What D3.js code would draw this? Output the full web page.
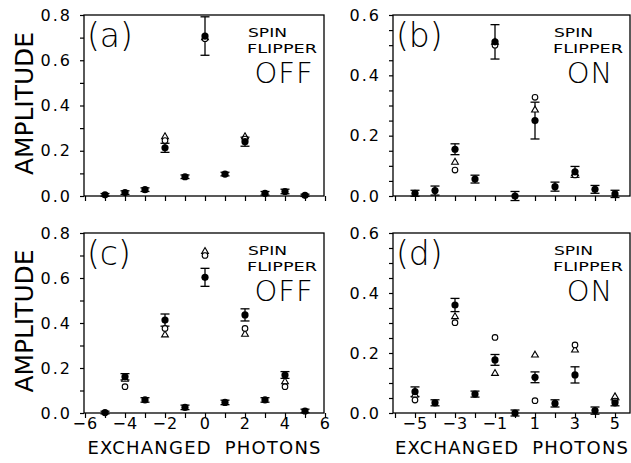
<!DOCTYPE html>
<html>
<head>
<meta charset="utf-8">
<script src="https://cdn.jsdelivr.net/npm/d3@7"></script>
<style>
body{margin:0;background:#fff}
svg{display:block}
text{font-family:"DejaVu Sans",sans-serif;fill:#000}
</style>
</head>
<body>
<svg></svg>
<script>
//chart data
var photons = [-5,-4,-3,-2,-1,0,1,2,3,4,5];
// (a) spin flipper off
var expA  = [0.005,0.015,0.028,0.213,0.085,0.707,0.097,0.240,0.012,0.020,0.003];
var errA  = [0.006,0.008,0.008,0.020,0.008,0.085,0.008,0.020,0.008,0.010,0.005];
var circA = [null,null,null,0.245,null,0.695,null,0.252,null,null,null];
var triA  = [null,null,null,0.262,null,0.700,null,0.262,null,null,null];
// (b) spin flipper on
var expB  = [0.009,0.018,0.155,0.056,0.511,0.000,0.250,0.031,0.080,0.022,0.007];
var errB  = [0.010,0.015,0.018,0.013,0.057,0.015,0.061,0.015,0.018,0.013,0.012];
var circB = [null,null,0.086,null,0.500,null,0.327,null,0.070,null,null];
var triB  = [null,null,0.112,null,0.510,null,0.285,null,0.075,null,null];
// (c) spin flipper off
var expC  = [0.002,0.161,0.058,0.413,0.025,0.603,0.047,0.436,0.058,0.169,0.009];
var errC  = [0.006,0.014,0.010,0.027,0.010,0.040,0.010,0.027,0.010,0.015,0.008];
var circC = [null,0.117,null,0.376,null,0.700,null,0.376,null,0.117,null];
var triC  = [null,0.150,null,0.347,null,0.718,null,0.350,null,0.139,null];
// (d) spin flipper on
var expD  = [0.071,0.034,0.360,0.063,0.177,0.000,0.119,0.032,0.127,0.008,0.034];
var errD  = [0.016,0.010,0.022,0.010,0.018,0.010,0.018,0.012,0.027,0.012,0.010];
var circD = [0.043,null,0.301,null,0.252,null,0.041,null,0.227,null,0.040];
var triD  = [0.060,null,0.321,null,0.132,null,0.193,null,0.210,null,0.054];

var panelNames = ['(a)','(b)','(c)','(d)'];
var flipState = ['OFF','ON','OFF','ON'];
var yMax = [0.8,0.6,0.8,0.6];

/*********layout************/
var width = 631, height = 463;
var svg = d3.select('svg').attr('width',width).attr('height',height);

var panels = [
	{name:panelNames[0],state:flipState[0],ymax:yMax[0],exp:expA,err:errA,circ:circA,tri:triA,
	 x0:84,x1:324,y0:15,y1:196,xdom:[-6.05,5.95],labels:false,left:true},
	{name:panelNames[1],state:flipState[1],ymax:yMax[1],exp:expB,err:errB,circ:circB,tri:triB,
	 x0:393,x1:630,y0:15,y1:196,xdom:[-6.1,5.75],labels:false,left:false},
	{name:panelNames[2],state:flipState[2],ymax:yMax[2],exp:expC,err:errC,circ:circC,tri:triC,
	 x0:84,x1:324,y0:233,y1:413,xdom:[-6.05,5.95],labels:true,left:true},
	{name:panelNames[3],state:flipState[3],ymax:yMax[3],exp:expD,err:errD,circ:circD,tri:triD,
	 x0:393,x1:630,y0:233,y1:413,xdom:[-6.1,5.75],labels:true,left:false}
];

var fmt = d3.format('.1f');
var fmtInt = d3.format('d');

panels.forEach(function(p){
	var g = svg.append('g');
	var x = d3.scaleLinear().domain(p.xdom).range([p.x0,p.x1]);
	var y = d3.scaleLinear().domain([0,p.ymax]).range([p.y1,p.y0]);
	var ystep = p.ymax > 0.7 ? 0.1 : 0.05;

	//x axis
	var xt = p.left ? d3.range(-6,7) : d3.range(-6,6);
	var axX = d3.axisBottom(x).tickValues(xt).tickSize(5).tickPadding(0)
		.tickFormat(function(d){
			if(!p.labels) return '';
			if(p.left) return (d % 2 === 0) ? fmtInt(d) : '';
			return (Math.abs(d) % 2 === 1) ? fmtInt(d) : '';
		});
	var gx = g.append('g').attr('transform','translate(0,'+p.y1+')').call(axX);
	gx.select('.domain').remove();
	gx.selectAll('line').attr('stroke','#000').attr('stroke-width',1.2);
	gx.selectAll('text').attr('font-size',16).attr('letter-spacing',1.2).attr('fill','#000');

	//y axis
	var yt = d3.range(0,Math.round(p.ymax/ystep)+1).map(function(i){return +(i*ystep).toFixed(2);});
	var axY = d3.axisLeft(y).tickValues(yt).tickSize(4).tickPadding(8)
		.tickFormat(function(d){
			return (Math.round(d*100) % 20 === 0) ? fmt(d) : '';
		});
	var gy = g.append('g').attr('transform','translate('+p.x0+',0)').call(axY);
	gy.select('.domain').remove();
	gy.selectAll('line').attr('stroke','#000').attr('stroke-width',1.2);
	gy.selectAll('text').attr('font-size',16).attr('letter-spacing',2).attr('fill','#000');

	//frame
	g.append('rect').attr('x',p.x0).attr('y',p.y0)
		.attr('width',p.x1-p.x0).attr('height',p.y1-p.y0)
		.attr('fill','none').attr('stroke','#000').attr('stroke-width',1.3);

	var rows = photons.map(function(n,i){
		return {n:n,v:p.exp[i],e:p.err[i],c:p.circ[i],t:p.tri[i]};
	});

	//error bars
	var eb = g.append('g').attr('stroke','#000').attr('stroke-width',1.3);
	rows.forEach(function(r){
		var cx = x(r.n);
		eb.append('line').attr('x1',cx).attr('x2',cx).attr('y1',y(r.v-r.e)).attr('y2',y(r.v+r.e));
		eb.append('line').attr('x1',cx-4.5).attr('x2',cx+4.5).attr('y1',y(r.v-r.e)).attr('y2',y(r.v-r.e));
		eb.append('line').attr('x1',cx-4.5).attr('x2',cx+4.5).attr('y1',y(r.v+r.e)).attr('y2',y(r.v+r.e));
	});

	//open triangles
	var tri = d3.symbol().type(d3.symbolTriangle).size(20);
	g.append('g').selectAll('path').data(rows.filter(function(r){return r.t!==null;}))
		.join('path').attr('d',tri)
		.attr('transform',function(r){return 'translate('+x(r.n)+','+y(r.t)+')';})
		.attr('fill','#fff').attr('stroke','#000').attr('stroke-width',1.1);

	//open circles
	g.append('g').selectAll('circle').data(rows.filter(function(r){return r.c!==null;}))
		.join('circle').attr('cx',function(r){return x(r.n);}).attr('cy',function(r){return y(r.c);})
		.attr('r',2.8).attr('fill','#fff').attr('stroke','#000').attr('stroke-width',1.1);

	//measured points
	g.append('g').selectAll('circle').data(rows)
		.join('circle').attr('cx',function(r){return x(r.n);}).attr('cy',function(r){return y(r.v);})
		.attr('r',3.6).attr('fill','#000');

	//panel letter
	g.append('text').attr('x',p.x0+3).attr('y',p.y0+32)
		.attr('font-size',33).attr('font-weight',300).text(p.name);

	//spin flipper note
	var nx = p.x1-77;
	g.append('text').attr('x',nx+1).attr('y',p.y0+21.5).attr('font-size',13)
		.attr('textLength',39).attr('lengthAdjust','spacingAndGlyphs').text('SPIN');
	g.append('text').attr('x',nx).attr('y',p.y0+37.5).attr('font-size',13)
		.attr('textLength',70).attr('lengthAdjust','spacingAndGlyphs').text('FLIPPER');
	g.append('text').attr('x',nx+37).attr('y',p.y0+68).attr('font-size',29)
		.attr('font-weight',300).attr('text-anchor','middle').attr('letter-spacing',1)
		.text(p.state);

	//axis titles
	if(p.left){
		var cy = (p.y0+p.y1)/2-2;
		g.append('text').attr('transform','translate(33,'+cy+') rotate(-90)')
			.attr('text-anchor','middle').attr('font-size',24)
			.attr('textLength',143).attr('lengthAdjust','spacingAndGlyphs').text('AMPLITUDE');
	}
	if(p.labels){
		g.append('text').attr('x',(p.x0+p.x1)/2).attr('y',454)
			.attr('text-anchor','middle').attr('font-size',18)
			.attr('textLength',233).attr('lengthAdjust','spacing').attr('word-spacing',6)
			.text('EXCHANGED PHOTONS');
	}
});
</script>
</body>
</html>
